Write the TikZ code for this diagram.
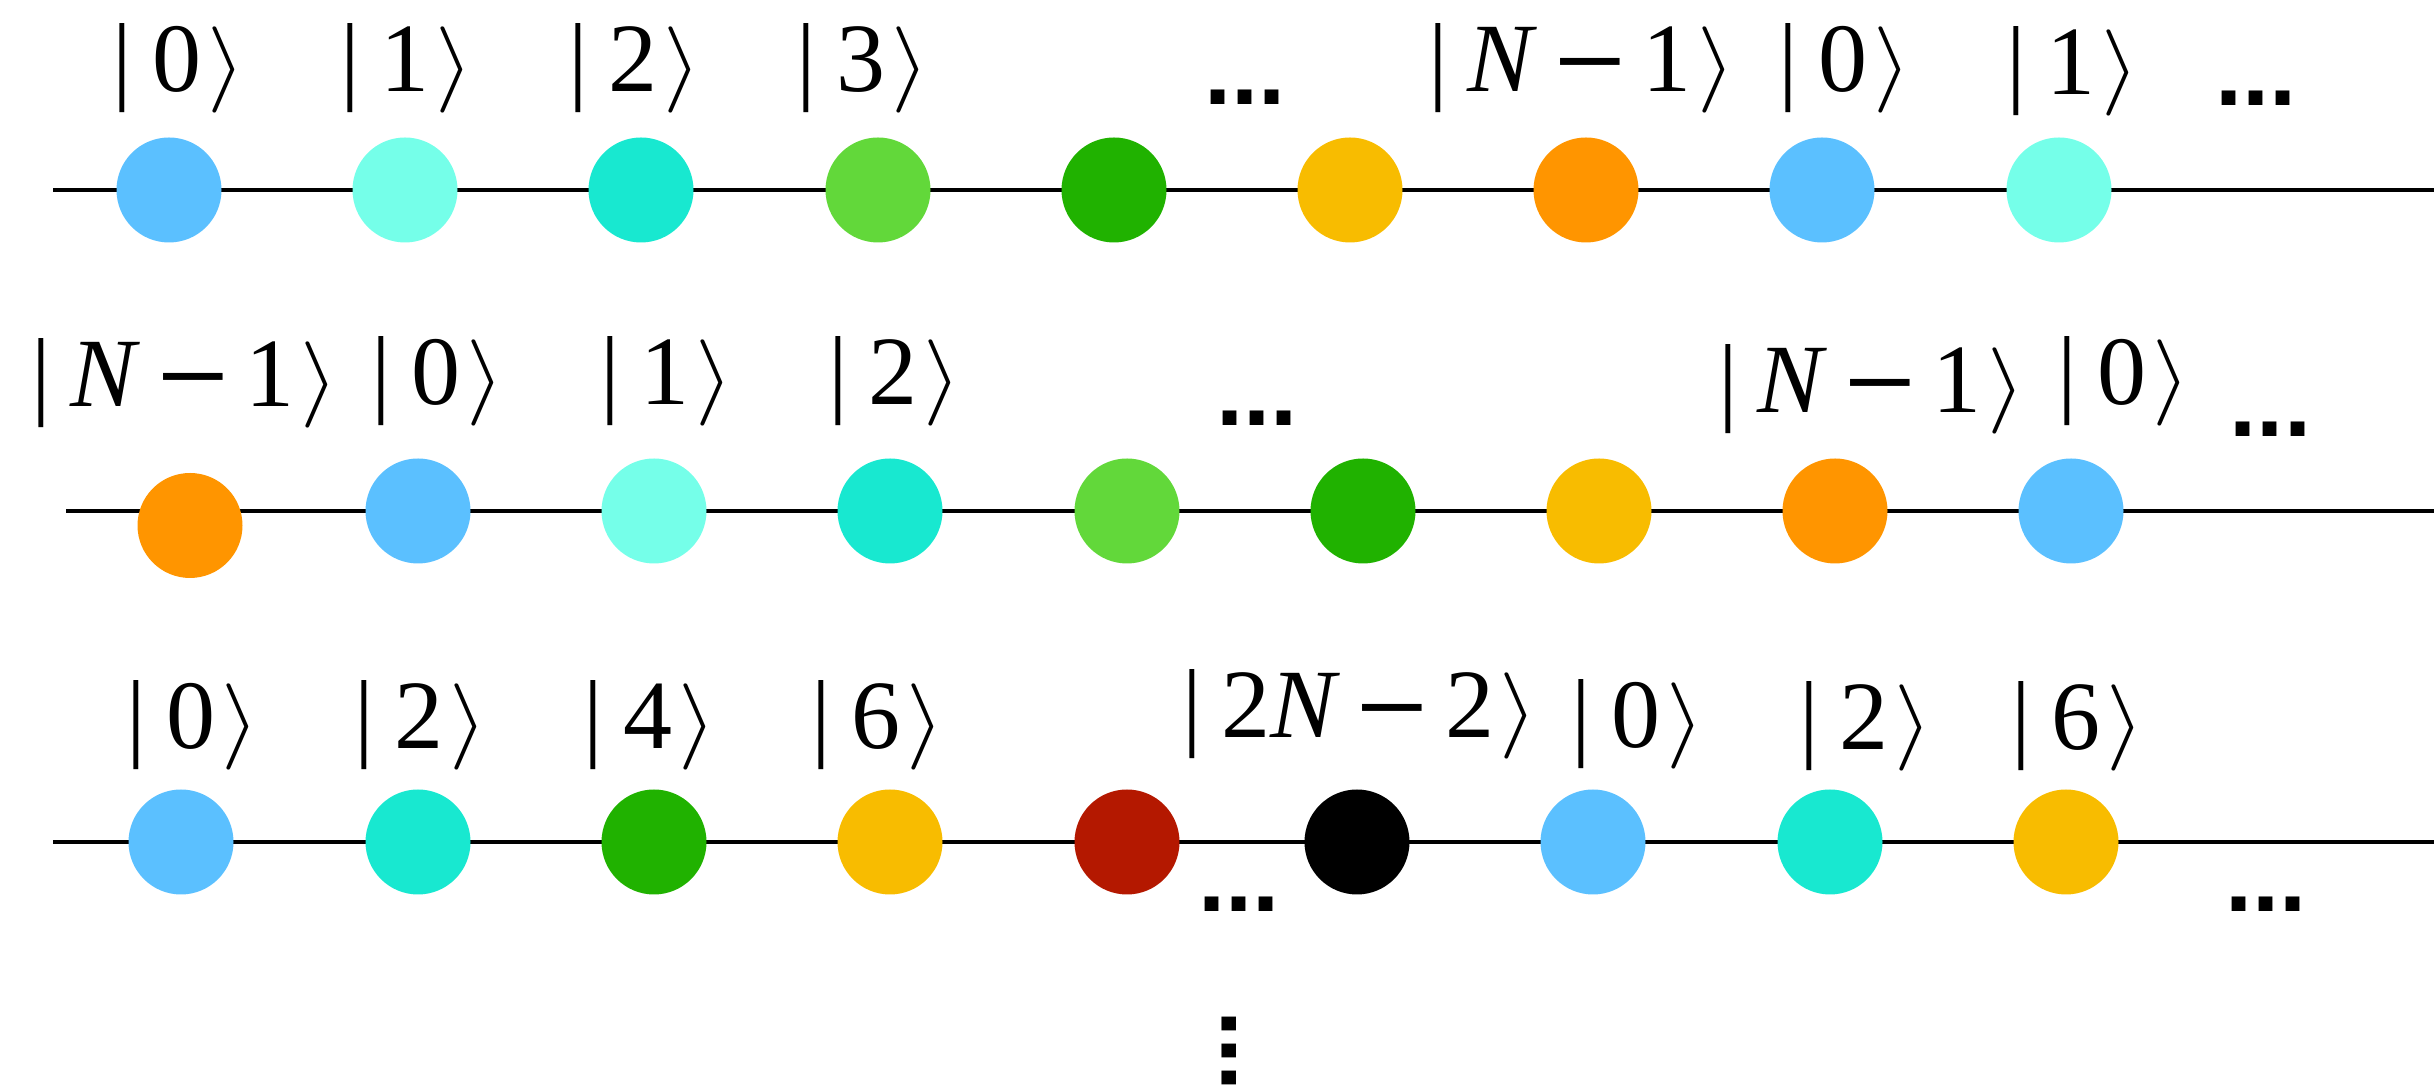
\documentclass[tikz,border=0pt]{standalone}
\usepackage{mathptmx}
\usepackage{graphicx}
\usepackage{fontspec}
\setmainfont{Liberation Serif}
\newfontfamily\dotsfont{Liberation Sans}
\newcommand\myket[1]{|\hspace{0.2em}#1\hspace{0.06em}\scalebox{1}[0.88]{$\rangle$}}
\newcommand\myminus{\hspace{0.17em}\raisebox{-0.03em}{\scalebox{1.25}[1]{\dotsfont\char"2212}}\hspace{0.17em}}
\definecolor{cA}{HTML}{5BC0FF}
\definecolor{cB}{HTML}{75FFE9}
\definecolor{cC}{HTML}{18E8D0}
\definecolor{cD}{HTML}{62D83A}
\definecolor{cE}{HTML}{20B200}
\definecolor{cF}{HTML}{F8BC00}
\definecolor{cG}{HTML}{FF9500}
\definecolor{cH}{HTML}{B41800}
\begin{document}
\begin{tikzpicture}[x=0.25pt,y=-0.25pt,
  bead/.style={circle,inner sep=0pt,minimum size=26.25pt,draw=none},
  ket/.style={inner sep=0pt,font=\fontsize{24.5}{29}\selectfont},
  dts/.style={inner sep=0pt,font=\dotsfont\bfseries\fontsize{24.4}{28}\selectfont},
  wire/.style={line width=1.1pt,black}]
\useasboundingbox (0,0) rectangle (2434,1088);
% wires
\coordinate (w1a) at (53,190);  \coordinate (w1b) at (2434,190);
\coordinate (w2a) at (66,511);  \coordinate (w2b) at (2434,511);
\coordinate (w3a) at (53,842);  \coordinate (w3b) at (2434,842);
\draw[wire] (w1a) -- (w1b);
\draw[wire] (w2a) -- (w2b);
\draw[wire] (w3a) -- (w3b);
% row 1 beads
\node[bead,fill=cA] (r1a) at (169,190) {};
\node[bead,fill=cB] (r1b) at (405,190) {};
\node[bead,fill=cC] (r1c) at (641,190) {};
\node[bead,fill=cD] (r1d) at (878,190) {};
\node[bead,fill=cE] (r1e) at (1114,190) {};
\node[bead,fill=cF] (r1f) at (1350,190) {};
\node[bead,fill=cG] (r1g) at (1586,190) {};
\node[bead,fill=cA] (r1h) at (1822,190) {};
\node[bead,fill=cB] (r1i) at (2059,190) {};
% row 1 labels
\node[ket] (l1a) at (179,68) {\myket{0}};
\node[ket] (l1b) at (407,68) {\myket{1}};
\node[ket] (l1c) at (635,68) {\myket{2}};
\node[ket] (l1d) at (863,68) {\myket{3}};
\node[dts] (d1a) at (1245,97.5) {...};
\node[ket] (l1g) at (1582,68) {\myket{\textit{N}\myminus 1}};
\node[ket] (l1h) at (1845,68) {\myket{0}};
\node[ket] (l1i) at (2073,71) {\myket{1}};
\node[dts] (d1b) at (2256,98) {...};
% row 2 beads
\node[bead,fill=cG] (r2a) at (190,525.5) {};
\node[bead,fill=cA] (r2b) at (418,511) {};
\node[bead,fill=cB] (r2c) at (654,511) {};
\node[bead,fill=cC] (r2d) at (890,511) {};
\node[bead,fill=cD] (r2e) at (1127,511) {};
\node[bead,fill=cE] (r2f) at (1363,511) {};
\node[bead,fill=cF] (r2g) at (1599,511) {};
\node[bead,fill=cG] (r2h) at (1835,511) {};
\node[bead,fill=cA] (r2i) at (2071,511) {};
% row 2 labels
\node[ket] (l2a) at (185,383) {\myket{\textit{N}\myminus 1}};
\node[ket] (l2b) at (438,381) {\myket{0}};
\node[ket] (l2c) at (667,381) {\myket{1}};
\node[ket] (l2d) at (895,381) {\myket{2}};
\node[dts] (d2a) at (1257,418.5) {...};
\node[ket] (l2h) at (1872,389) {\myket{\textit{N}\myminus 1}};
\node[ket] (l2i) at (2124,381) {\myket{0}};
\node[dts] (d2b) at (2270.5,429) {...};
% row 3 beads
\node[bead,fill=cA] (r3a) at (181,842) {};
\node[bead,fill=cC] (r3b) at (418,842) {};
\node[bead,fill=cE] (r3c) at (654,842) {};
\node[bead,fill=cF] (r3d) at (890,842) {};
\node[bead,fill=cH] (r3e) at (1127,842) {};
\node[bead,fill=black] (r3f) at (1357,842) {};
\node[bead,fill=cA] (r3g) at (1593,842) {};
\node[bead,fill=cC] (r3h) at (1830,842) {};
\node[bead,fill=cF] (r3i) at (2066,842) {};
% row 3 labels
\node[ket] (l3a) at (193,725) {\myket{0}};
\node[ket] (l3b) at (421,725) {\myket{2}};
\node[ket] (l3c) at (650,725) {\myket{4}};
\node[ket] (l3d) at (878,725) {\myket{6}};
\node[ket] (l3f) at (1360,714) {\myket{2\textit{N}\myminus 2}};
\node[ket] (l3g) at (1638,724) {\myket{0}};
\node[ket] (l3h) at (1866,726) {\myket{2}};
\node[ket] (l3i) at (2078,726) {\myket{6}};
\node[dts] (d3a) at (1239,904.5) {...};
\node[dts] (d3b) at (2266,904) {...};
% vertical dots
\node[dts,rotate=90] (vd) at (1229,1051) {...};
\end{tikzpicture}
\end{document}
